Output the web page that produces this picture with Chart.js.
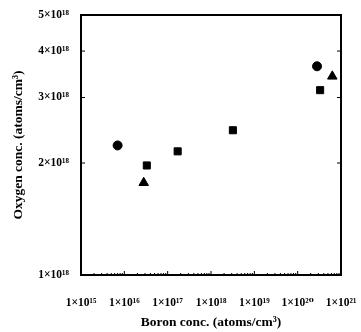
<!DOCTYPE html>
<html>
<head>
<meta charset="utf-8">
<script src="https://cdn.jsdelivr.net/npm/chart.js@4.4.1/dist/chart.umd.min.js"></script>
<style>
  html, body { margin: 0; padding: 0; background: #fff; }
  #wrap { width: 361px; height: 332px; }
</style>
</head>
<body>
<div id="wrap"><canvas id="chart" width="361" height="332"></canvas></div>
<script>
// boron conc. (x) and oxygen conc. (y), atoms/cm3
const circleBoron = [7e15, 2.8e20];
const circleOxygen = [2.23e18, 3.64e18];
const squareBoron = [3.3e16, 1.7e17, 3.2e18, 3.3e20];
const squareOxygen = [1.97e18, 2.15e18, 2.45e18, 3.14e18];
const triangleBoron = [2.8e16, 6.3e20];
const triangleOxygen = [1.77e18, 3.42e18];

const xTicks = [1e15, 1e16, 1e17, 1e18, 1e19, 1e20, 1e21];
const xTickLabels = ['1×10¹⁵', '1×10¹⁶', '1×10¹⁷', '1×10¹⁸', '1×10¹⁹', '1×10²⁰', '1×10²¹'];
const yTicks = [1e18, 2e18, 3e18, 4e18, 5e18];
const yTickLabels = ['1×10¹⁸', '2×10¹⁸', '3×10¹⁸', '4×10¹⁸', '5×10¹⁸'];

const pts = (xs, ys) => xs.map((x, i) => ({ x: x, y: ys[i] }));
const serif = "'Liberation Serif', 'DejaVu Serif', serif";

// frame with inward ticks
const framePlugin = {
  id: 'frame',
  afterDraw(chart) {
    const ctx = chart.ctx, a = chart.chartArea;
    const xs = chart.scales.x, ys = chart.scales.y;
    ctx.save();
    ctx.strokeStyle = '#000';
    ctx.lineWidth = 2;
    ctx.strokeRect(a.left, a.top, a.right - a.left, a.bottom - a.top);
    ctx.lineWidth = 1;
    ctx.beginPath();
    for (let d = 15; d < 21; d++) {
      for (let m = 1; m < 10; m++) {
        const px = xs.getPixelForValue(m * Math.pow(10, d));
        const len = m === 1 ? 4 : 2;
        ctx.moveTo(px, a.bottom); ctx.lineTo(px, a.bottom - len);
      }
    }
    yTicks.forEach(v => {
      const py = ys.getPixelForValue(v);
      ctx.moveTo(a.left, py); ctx.lineTo(a.left + 4, py);
      ctx.moveTo(a.right, py); ctx.lineTo(a.right - 4, py);
    });
    ctx.stroke();
    ctx.restore();
  }
};

new Chart(document.getElementById('chart'), {
  type: 'scatter',
  data: {
    datasets: [
      { label: 'circle', data: pts(circleBoron, circleOxygen), pointStyle: 'circle', pointRadius: 4.5, backgroundColor: '#000', borderColor: '#000' },
      { label: 'square', data: pts(squareBoron, squareOxygen), pointStyle: 'rect', pointRadius: 5, backgroundColor: '#000', borderColor: '#000' },
      { label: 'triangle', data: pts(triangleBoron, triangleOxygen), pointStyle: 'triangle', pointRadius: 5.5, backgroundColor: '#000', borderColor: '#000' }
    ]
  },
  options: {
    responsive: false,
    animation: false,
    layout: { padding: { top: 15, right: 20, left: 10, bottom: 0 } },
    plugins: { legend: { display: false }, tooltip: { enabled: false } },
    scales: {
      x: {
        type: 'logarithmic',
        min: 1e15,
        max: 1e21,
        afterBuildTicks: s => { s.ticks = xTicks.map(v => ({ value: v })); },
        afterFit: s => { s.height = 57; s.paddingLeft = 0; s.paddingRight = 0; },
        grid: { display: false },
        border: { display: false },
        ticks: {
          color: '#000',
          maxRotation: 0,
          autoSkip: false,
          padding: 13,
          font: { family: serif, size: 11.5, weight: 'bold' },
          callback: (v, i) => xTickLabels[i]
        },
        title: {
          display: true,
          text: 'Boron conc. (atoms/cm³)',
          color: '#000',
          padding: { top: 4, bottom: 1 },
          font: { family: serif, size: 13.5, weight: 'bold' }
        }
      },
      y: {
        type: 'logarithmic',
        min: 1e18,
        max: 5e18,
        afterBuildTicks: s => { s.ticks = yTicks.map(v => ({ value: v })); },
        afterFit: s => { s.width = 71; s.paddingTop = 0; s.paddingBottom = 0; },
        grid: { display: false },
        border: { display: false },
        ticks: {
          color: '#000',
          autoSkip: false,
          padding: 4,
          font: { family: serif, size: 11.5, weight: 'bold' },
          callback: (v, i) => yTickLabels[i]
        },
        title: {
          display: true,
          text: 'Oxygen conc. (atoms/cm³)',
          color: '#000',
          padding: { top: 0, bottom: 0 },
          font: { family: serif, size: 13.5, weight: 'bold' }
        }
      }
    }
  },
  plugins: [framePlugin]
});
</script>
</body>
</html>
